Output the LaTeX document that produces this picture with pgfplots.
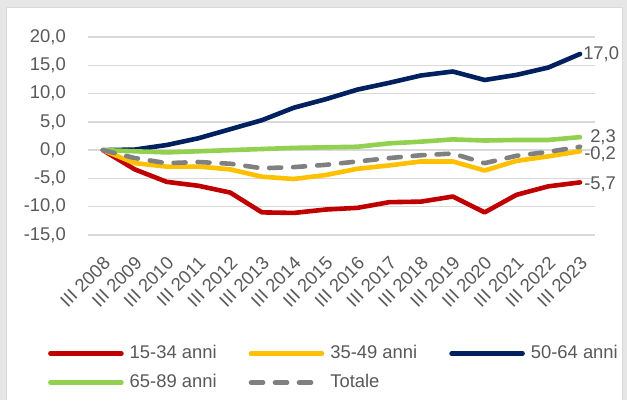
\documentclass[border=0pt]{standalone}
\usepackage{fontspec}
\setmainfont{Liberation Sans}
\usepackage{pgfplots}
\pgfplotsset{compat=1.18}

\definecolor{cRed}{HTML}{C00000}
\definecolor{cYel}{HTML}{FFC000}
\definecolor{cNavy}{HTML}{002060}
\definecolor{cGreen}{HTML}{92D050}
\definecolor{cGrey}{HTML}{808080}
\definecolor{txt}{HTML}{595959}
\definecolor{gridc}{HTML}{D9D9D9}
\definecolor{bgframe}{HTML}{E6E6E6}

\newcommand{\chartfont}{\fontsize{18.4}{22}\selectfont}

\begin{document}
\begin{tikzpicture}[x=1pt,y=1pt]
  \useasboundingbox (0,0) rectangle (627,400);
  \fill[bgframe] (0,0) rectangle (627,400);
  \fill[white] (6.5,0) rectangle (622.5,392.5);
  \draw[gridc, line width=0.8pt] (6.5,0) -- (6.5,392.5) -- (622.5,392.5) -- (622.5,0);
  \begin{axis}[
      at={(88pt,165pt)}, anchor=south west,
      width=507pt, height=198pt, scale only axis,
      xmin=-0.47, xmax=15.47, ymin=-15, ymax=20,
      axis line style={draw=none},
      ytick={-15,-10,...,20},
      xtick={0,...,15},
      xticklabels={III 2008,III 2009,III 2010,III 2011,III 2012,III 2013,III 2014,III 2015,III 2016,III 2017,III 2018,III 2019,III 2020,III 2021,III 2022,III 2023},
      major tick length=0pt,
      ymajorgrids, grid style={gridc, line width=1.5pt},
      tick label style={font=\chartfont, text=txt},
      yticklabel style={anchor=east, inner sep=0pt, xshift=-22pt,
        /pgf/number format/.cd, fixed, fixed zerofill, precision=1, use comma, assume math mode=true},
      xticklabel style={xshift=4pt, yshift=-25pt, rotate=45, anchor=east, inner sep=0pt},
      legend columns=3,
      legend style={at={(-0.079,-0.555)}, anchor=north west, draw=none, fill=none,
        font=\chartfont, text=txt, inner sep=0pt,
        nodes={inner sep=0pt, text height=13pt, text depth=4pt},
        /tikz/every even column/.append style={column sep=32pt},
        row sep=12pt},
      legend cell align=left,
      legend image code/.code={\draw[#1] (0pt,0pt) -- (71pt,0pt);},
      every axis plot/.append style={line width=4.6pt, line join=round, line cap=round},
      clip=false,
    ]
    \addplot[cRed] coordinates {(0,0) (1,-3.4) (2,-5.6) (3,-6.3) (4,-7.5) (5,-11.0) (6,-11.1) (7,-10.5) (8,-10.2) (9,-9.2) (10,-9.1) (11,-8.2) (12,-11.0) (13,-7.9) (14,-6.4) (15,-5.7)};
    \addlegendentry{\hspace{6pt}15-34 anni}
    \addplot[cYel] coordinates {(0,0) (1,-2.3) (2,-2.9) (3,-2.9) (4,-3.4) (5,-4.7) (6,-5.1) (7,-4.4) (8,-3.3) (9,-2.7) (10,-2.0) (11,-2.0) (12,-3.6) (13,-1.9) (14,-1.1) (15,-0.2)};
    \addlegendentry{\hspace{6pt}35-49 anni}
    \addplot[cNavy] coordinates {(0,0) (1,0.1) (2,0.9) (3,2.1) (4,3.7) (5,5.3) (6,7.5) (7,9.0) (8,10.7) (9,11.9) (10,13.2) (11,13.9) (12,12.4) (13,13.3) (14,14.6) (15,17.0)};
    \addlegendentry{\hspace{6pt}50-64 anni}
    \addplot[cGreen] coordinates {(0,0) (1,-0.2) (2,-0.4) (3,-0.2) (4,0.0) (5,0.2) (6,0.4) (7,0.5) (8,0.6) (9,1.2) (10,1.5) (11,1.9) (12,1.7) (13,1.8) (14,1.8) (15,2.3)};
    \addlegendentry{\hspace{6pt}65-89 anni}
    \addplot[cGrey, dash pattern=on 12pt off 12pt] coordinates {(0,0) (1,-1.4) (2,-2.3) (3,-2.1) (4,-2.4) (5,-3.2) (6,-3.0) (7,-2.6) (8,-2.0) (9,-1.4) (10,-0.9) (11,-0.6) (12,-2.3) (13,-1.0) (14,-0.3) (15,0.6)};
    \addlegendentry{\hspace{6pt}Totale}
    \node[anchor=west, inner sep=0pt, font=\chartfont, text=txt] at (axis cs:15,17.0) {\hspace{3pt}17,0};
    \node[anchor=west, inner sep=0pt, font=\chartfont, text=txt] at (axis cs:15,2.3) {\hspace{10pt}2,3};
    \node[anchor=west, inner sep=0pt, font=\chartfont, text=txt] at (axis cs:15,-0.7) {\hspace{4pt}-0,2};
    \node[anchor=west, inner sep=0pt, font=\chartfont, text=txt] at (axis cs:15,-6.0) {\hspace{4pt}-5,7};
  \end{axis}
\end{tikzpicture}
\end{document}
